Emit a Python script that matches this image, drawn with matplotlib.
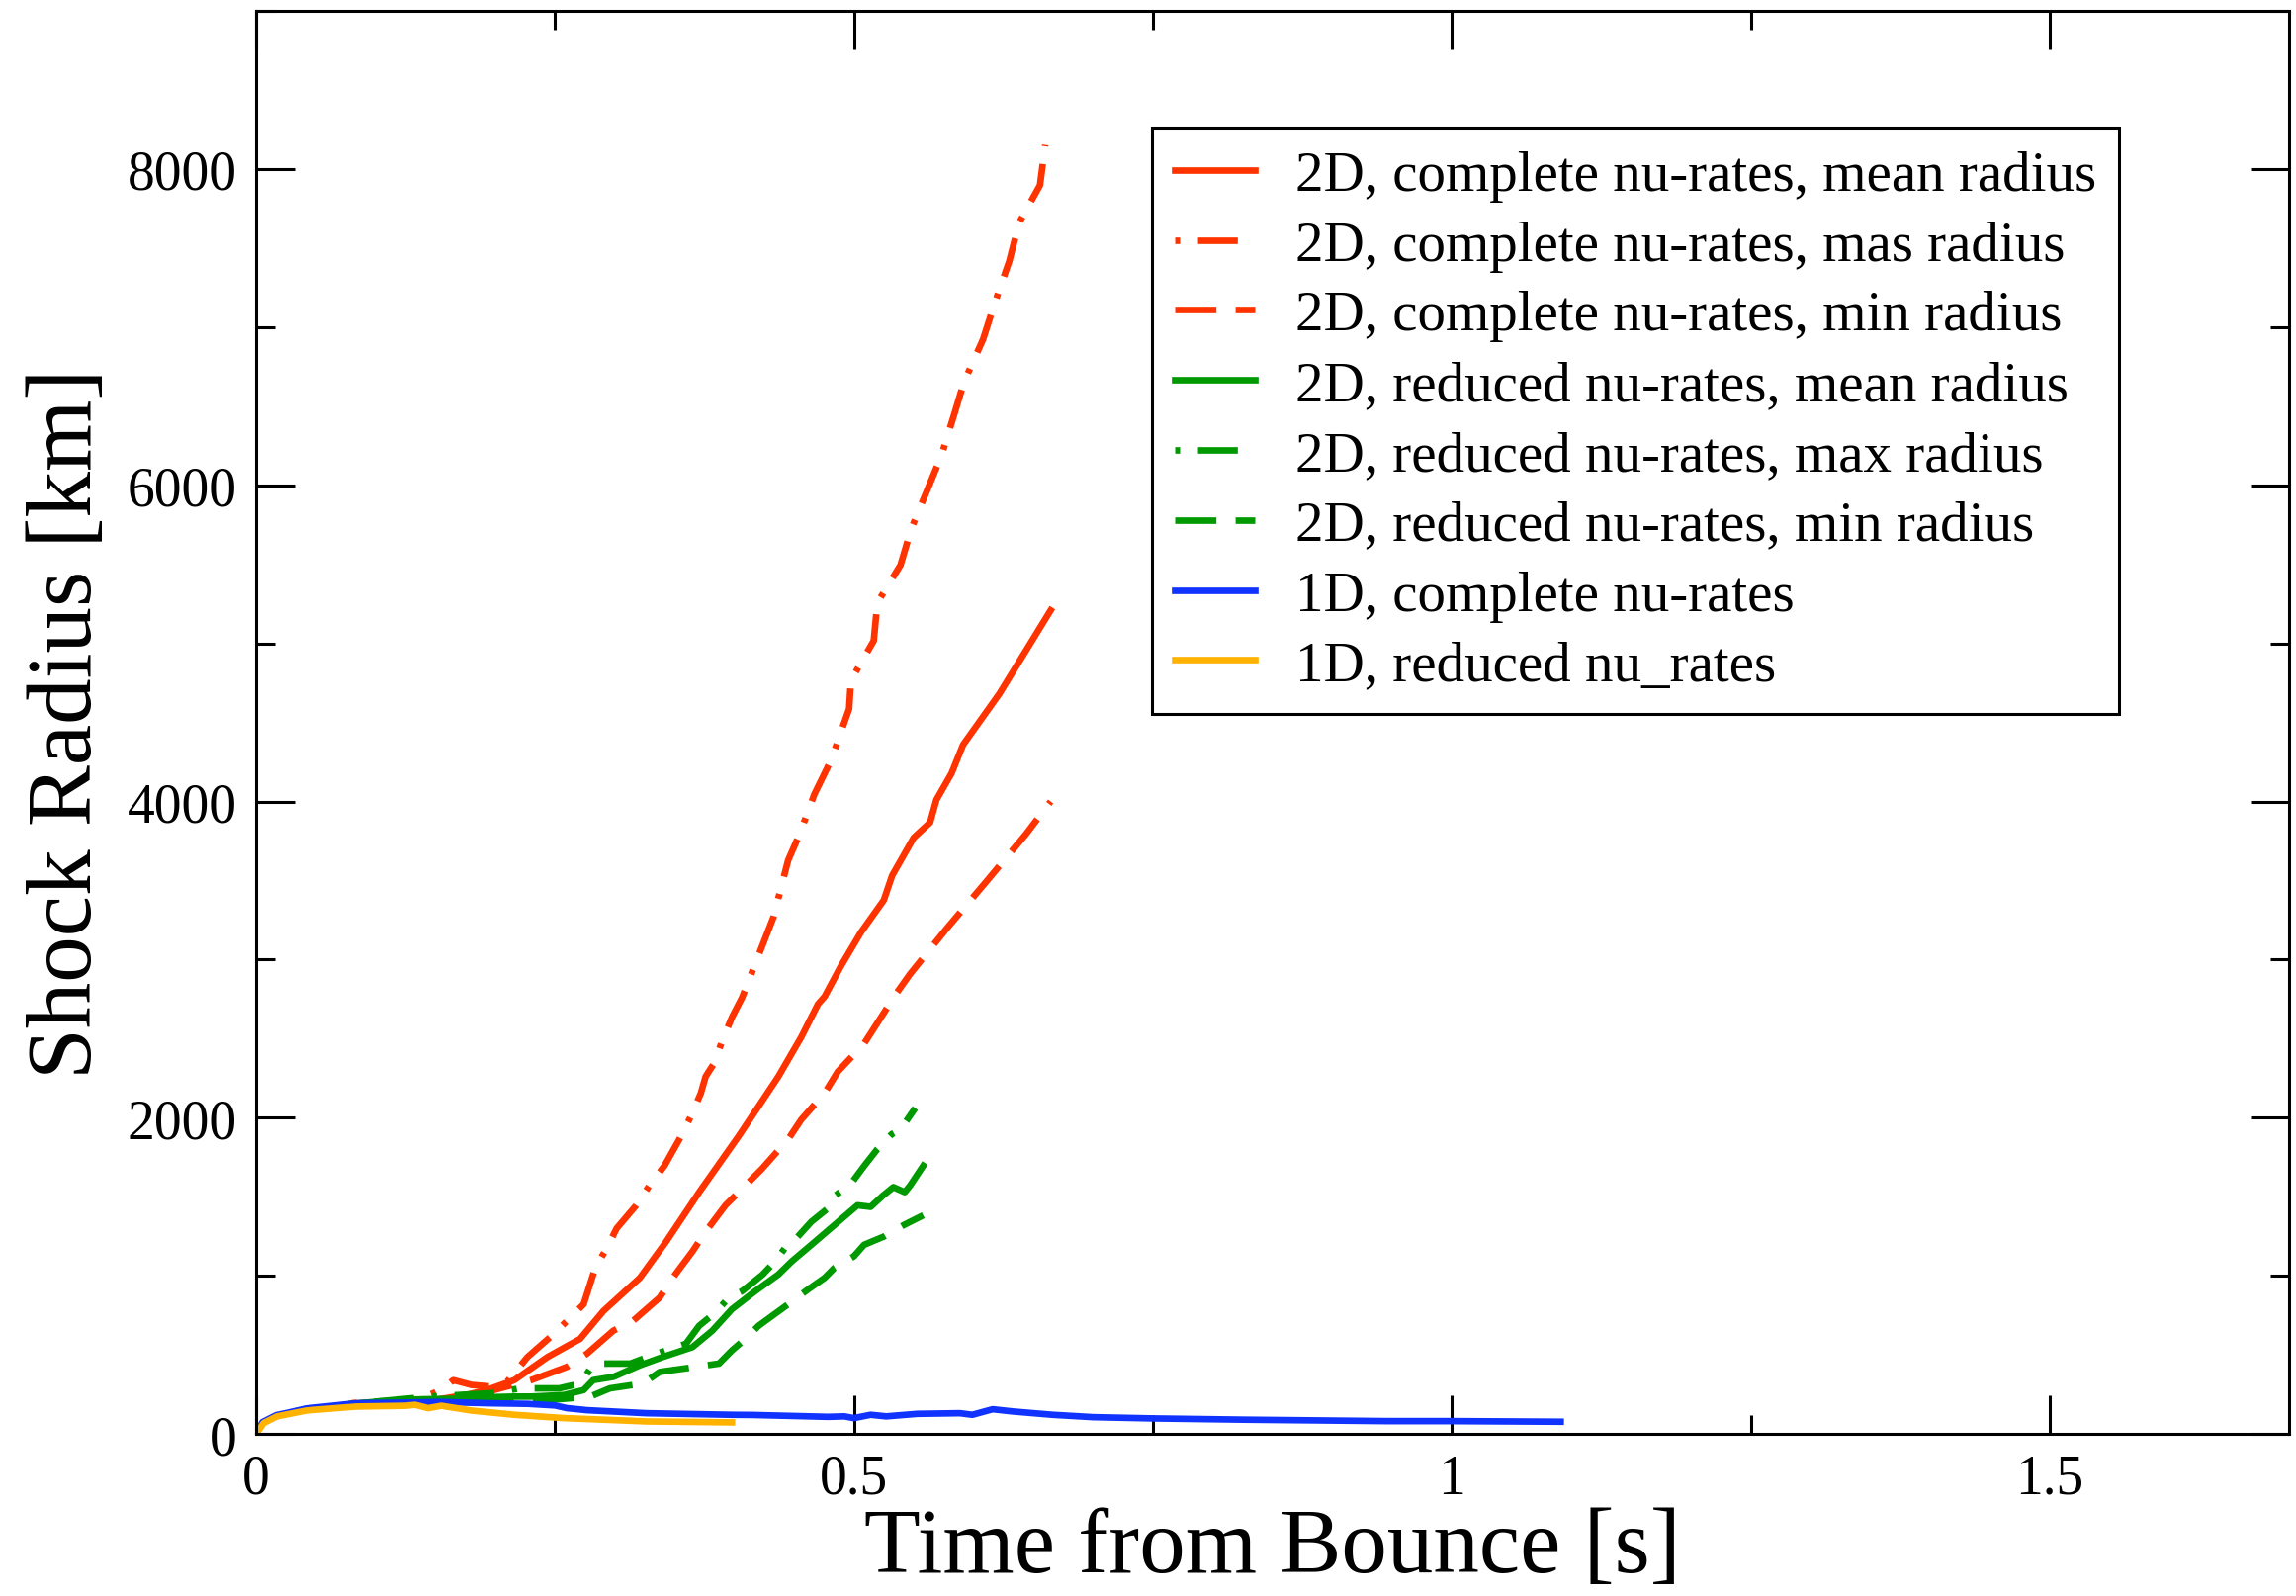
import matplotlib
matplotlib.use('Agg')
import matplotlib.pyplot as plt
from matplotlib.ticker import MultipleLocator

plt.rcParams['font.family'] = ['Liberation Serif', 'DejaVu Serif']
plt.rcParams['lines.scale_dashes'] = False

# shock radius [km] vs. time after bounce [s]
t_2d_full_mean = [0.08, 0.10, 0.129, 0.15, 0.178, 0.194, 0.216, 0.2437, 0.271, 0.2906, 0.321, 0.343,
                  0.3706, 0.4037, 0.4368, 0.456, 0.47, 0.4755, 0.489, 0.5058, 0.525, 0.532, 0.55,
                  0.5637, 0.569, 0.5817, 0.5913, 0.6217, 0.6645]
r_2d_full_mean = [190, 200, 205, 215, 250, 280, 340, 486, 601, 778, 987, 1216,
                  1529, 1884, 2260, 2510, 2719, 2766, 2957, 3172, 3376, 3532, 3771,
                  3867, 4011, 4179, 4359, 4682, 5209]

t_2d_full_max = [0.08, 0.11, 0.14, 0.155, 0.165, 0.18, 0.195, 0.21, 0.227, 0.249, 0.274, 0.2837,
                 0.2933, 0.3016, 0.318, 0.329, 0.3416, 0.354, 0.3637, 0.372, 0.376, 0.383, 0.39,
                 0.398, 0.4065, 0.4327, 0.445, 0.4547, 0.467, 0.481, 0.496, 0.4975, 0.5166,
                 0.5196, 0.539, 0.548, 0.562, 0.5733, 0.5844, 0.592, 0.608, 0.6175, 0.630,
                 0.638, 0.6556, 0.660]
r_2d_full_max = [195, 205, 230, 280, 340, 310, 300, 330, 486, 632, 820, 1050,
                 1175, 1300, 1446, 1571, 1696, 1863, 2009, 2155, 2260, 2343, 2489,
                 2635, 2760, 3268, 3628, 3795, 4047, 4263, 4586, 4766, 5017,
                 5257, 5496, 5726, 5982, 6190, 6461, 6652, 6923, 7147, 7419,
                 7658, 7898, 8153]

t_2d_full_min = [0.08, 0.12, 0.16, 0.178, 0.2, 0.23, 0.26, 0.2767, 0.2988, 0.3154, 0.3375, 0.3485,
                 0.365, 0.376, 0.3926, 0.4065, 0.423, 0.445, 0.456, 0.4755, 0.4865, 0.5085,
                 0.536, 0.547, 0.5775, 0.611, 0.644, 0.6645]
r_2d_full_min = [190, 200, 215, 225, 280, 340, 424, 507, 653, 716, 862, 987,
                 1154, 1279, 1446, 1550, 1676, 1863, 1988, 2155, 2291, 2468,
                 2792, 2909, 3196, 3496, 3795, 4000]

t_2d_red_mean = [0.08, 0.103, 0.139, 0.166, 0.194, 0.216, 0.23, 0.2575, 0.274, 0.282, 0.299, 0.321,
                 0.340, 0.365, 0.3816, 0.398, 0.4175, 0.4368, 0.448, 0.4644, 0.4837, 0.503,
                 0.514, 0.5245, 0.533, 0.5425, 0.547, 0.558]
r_2d_red_mean = [190, 205, 219, 222, 232, 236, 236, 246, 277, 340, 361, 434,
                 486, 549, 653, 789, 903, 1008, 1091, 1196, 1321, 1446,
                 1436, 1509, 1561, 1529, 1571, 1696]

t_2d_red_max = [0.08, 0.145, 0.196, 0.221, 0.238, 0.2536, 0.2713, 0.282, 0.2906, 0.313, 0.3347,
                0.3595, 0.3706, 0.3843, 0.3954, 0.4065, 0.4237, 0.434, 0.4423, 0.4506, 0.4644,
                0.478, 0.481, 0.4975, 0.5087, 0.5196, 0.5315, 0.539, 0.5513]
r_2d_red_max = [190, 236, 257, 288, 288, 288, 319, 440, 445, 445, 507,
                570, 684, 768, 862, 903, 1008, 1091, 1175, 1227, 1342,
                1425, 1488, 1582, 1696, 1801, 1895, 1926, 2061]

t_2d_red_min = [0.08, 0.145, 0.216, 0.2464, 0.2795, 0.296, 0.3237, 0.3375, 0.3678, 0.3872, 0.398,
                0.4092, 0.4203, 0.445, 0.4617, 0.4755, 0.4837, 0.5, 0.5085, 0.525, 0.5417, 0.558]
r_2d_red_min = [190, 215, 215, 215, 236, 288, 319, 392, 424, 445, 528,
                601, 684, 820, 914, 987, 1050, 1123, 1196, 1248, 1321, 1383]

t_1d_full = [0, 0.0055, 0.017, 0.027, 0.042, 0.06, 0.0836, 0.103, 0.125, 0.1526, 0.194, 0.2275,
             0.25, 0.26, 0.277, 0.3264, 0.398, 0.415, 0.4785, 0.492, 0.5, 0.514, 0.527, 0.553,
             0.5886, 0.599, 0.616, 0.633, 0.666, 0.700, 0.75, 0.827, 0.945, 1.0, 1.091]
r_1d_full = [0, 75, 119, 135, 161, 175, 194, 196, 198, 202, 194, 190,
             180, 163, 150, 131, 121, 120, 108, 111, 100, 121, 111, 127,
             131, 121, 156, 142, 121, 106, 98, 90, 81, 81, 77]

t_1d_red = [0, 0.0064, 0.0174, 0.042, 0.0836, 0.125, 0.133, 0.144, 0.155, 0.18, 0.216, 0.2575,
            0.304, 0.3264, 0.398]
r_1d_red = [0, 69, 111, 148, 173, 178, 184, 163, 178, 148, 121, 100,
            86, 79, 73]

xticks = [0, 0.5, 1, 1.5]
xticklabels = ['0', '0.5', '1', '1.5']
yticks = [0, 2000, 4000, 6000, 8000]
yticklabels = ['0', '2000', '4000', '6000', '8000']

RED = '#ff3300'
GREEN = '#009900'
BLUE = '#1133ff'
ORANGE = '#ffb300'
LW = 4.8
DASHDOT = (42, (29, 13, 3.6, 13))
DASHED = (0, (30, 14))

fig = plt.figure(figsize=(23.22, 16.15), dpi=100)
ax = fig.add_axes([0.1115, 0.1015, 0.8854, 0.8910])

ax.plot(t_2d_full_mean, r_2d_full_mean, color=RED, lw=LW, label='2D, complete nu-rates, mean radius')
ax.plot(t_2d_full_max, r_2d_full_max, color=RED, lw=LW, ls=DASHDOT, label='2D, complete nu-rates, mas radius')
ax.plot(t_2d_full_min, r_2d_full_min, color=RED, lw=LW, ls=DASHED, label='2D, complete nu-rates, min radius')
ax.plot(t_2d_red_mean, r_2d_red_mean, color=GREEN, lw=LW, label='2D, reduced nu-rates, mean radius')
ax.plot(t_2d_red_max, r_2d_red_max, color=GREEN, lw=LW, ls=DASHDOT, label='2D, reduced nu-rates, max radius')
ax.plot(t_2d_red_min, r_2d_red_min, color=GREEN, lw=LW, ls=DASHED, label='2D, reduced nu-rates, min radius')
ax.plot(t_1d_full, r_1d_full, color=BLUE, lw=LW, label='1D, complete nu-rates')
ax.plot(t_1d_red, r_1d_red, color=ORANGE, lw=LW, label='1D, reduced nu_rates')

ax.set_xlim(0, 1.7)
ax.set_ylim(0, 9000)
ax.set_xticks(xticks)
ax.set_xticklabels(xticklabels)
ax.set_yticks(yticks)
ax.set_yticklabels(yticklabels)
ax.xaxis.set_minor_locator(MultipleLocator(0.25))
ax.yaxis.set_minor_locator(MultipleLocator(1000))
ax.tick_params(which='both', direction='in', top=True, right=True, width=2.2)
ax.tick_params(which='major', length=28, labelsize=40, pad=14)
ax.tick_params(which='minor', length=14)
for sp in ax.spines.values():
    sp.set_linewidth(2.2)

ax.set_xlabel('Time from Bounce [s]', fontsize=67, labelpad=2)
ax.set_ylabel('Shock Radius [km]', fontsize=67, labelpad=12)

leg = ax.legend(loc='upper left', bbox_to_anchor=(1165 / 2322, 1 - 130 / 1615),
                bbox_transform=fig.transFigure, borderaxespad=0, fontsize=41,
                frameon=True, fancybox=False, framealpha=1, edgecolor='black',
                handlelength=1.42, handletextpad=0.72, labelspacing=0.33, borderpad=0.4)
leg.get_frame().set_linewidth(2.2)

fig.savefig('out.png', dpi=100)
